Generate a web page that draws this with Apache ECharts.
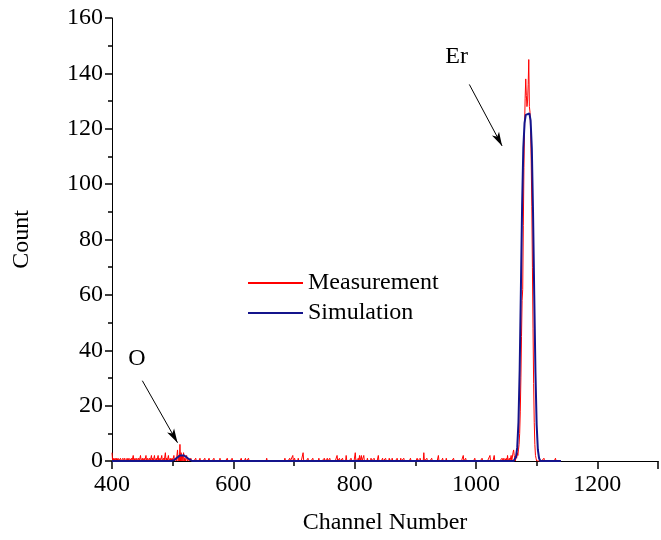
<!DOCTYPE html>
<html>
<head>
<meta charset="utf-8">
<script src="https://cdn.jsdelivr.net/npm/echarts@6/dist/echarts.min.js"></script>
<style>
  html, body { margin: 0; padding: 0; background: #fff; }
  #chart { width: 661px; height: 540px; }
</style>
</head>
<body>
<div id="chart"></div>
<script>
// channel range of the measured spectrum
const chStart = 400;
const chEnd = 1140;

// measured noise spikes [channel, count], count is 0 on the other channels
const measNoise = [
  [400, 3], [402, 1], [405, 1], [407, 1], [410, 1], [414, 1], [418, 1], [421, 1],
  [425, 1], [428, 1], [432, 1], [435, 2], [438, 1], [441, 1], [444, 1], [447, 2],
  [450, 1], [453, 1], [456, 2], [459, 1], [462, 1], [465, 2], [467, 1], [470, 2],
  [473, 1], [476, 2], [479, 1], [482, 2], [485, 1], [488, 3], [490, 1], [493, 2],
  [496, 1], [499, 1], [502, 2], [505, 1], [508, 4], [510, 2], [512, 6], [514, 3],
  [516, 2], [518, 3], [520, 1], [523, 2], [526, 1], [530, 1], [538, 1], [545, 1],
  [553, 1], [560, 1], [568, 1], [578, 1], [590, 1], [598, 1],
  [613, 1], [620, 1], [625, 1], [655, 1], [685, 1], [693, 1], [698, 2], [701, 1],
  [707, 1], [715, 3], [723, 1], [731, 1], [741, 1], [750, 1], [755, 1], [759, 1],
  [771, 2], [775, 1], [780, 1], [786, 2], [794, 1], [801, 3], [806, 1], [808, 2],
  [811, 2], [815, 2], [821, 1], [827, 1], [832, 1], [839, 2], [846, 1], [851, 1],
  [857, 1], [862, 1], [870, 1], [876, 1], [881, 1], [892, 1], [903, 1], [908, 1],
  [914, 3], [919, 1], [927, 1], [938, 2], [945, 1], [951, 1], [963, 1], [979, 2],
  [983, 1], [998, 1], [1010, 1], [1023, 2], [1030, 2], [1043, 1], [1046, 1], [1050, 1],
  [1052, 2], [1055, 1], [1058, 2], [1061, 3], [1062, 4], [1063, 2],
  [1112, 1], [1131, 1]
];

// Er peak, one count per channel from peakStart
const peakStart = 1064;
const measPeak = [
  1, 0, 2, 1, 3, 2, 4, 6, 10, 18,
  30, 45, 58, 62, 85, 106, 120, 131, 138, 132,
  128, 130, 136, 145, 128, 126, 120, 108, 92, 70,
  48, 28, 14, 6, 2, 1, 0
];

// simulated spectrum
const simCh = [400, 498, 502, 506, 509, 512, 519, 522, 525, 528, 532,
  1062, 1064, 1066, 1068, 1070, 1072, 1074, 1076, 1078, 1080, 1082, 1088,
  1090, 1092, 1094, 1096, 1098, 1100, 1102, 1104, 1106, 1140];
const simCount = [0, 0, 0.3, 1.0, 1.7, 2.0, 2.0, 1.7, 1.0, 0.3, 0,
  0, 0.4, 1.5, 5, 14, 33, 62, 92, 113, 122, 125, 125.5,
  123, 113, 90, 60, 32, 13, 4, 1, 0, 0];

// tick labels
const xTicks = [400, 600, 800, 1000, 1200];
const yTicks = [0, 20, 40, 60, 80, 100, 120, 140, 160];

// annotations: [text, textChannel, textCount, arrow from, arrow to]
const labelEr = ['Er', 968, 146, [989, 136], [1043, 113.8]];
const labelO = ['O', 441, 37, [450, 29], [508, 6.6]];

let noiseMap = {};
measNoise.forEach(function (p) { noiseMap[p[0]] = p[1]; });

let measData = [];
for (let ch = chStart; ch <= chEnd; ch++) {
  let v = 0;
  if (ch >= peakStart && ch < peakStart + measPeak.length) {
    v = measPeak[ch - peakStart];
  } else if (noiseMap[ch] !== undefined) {
    v = noiseMap[ch];
  }
  measData.push([ch, v]);
}

let simData = simCh.map(function (c, i) { return [c, simCount[i]]; });

const font = 'Liberation Serif';
const fs = 24;

// arrow + text in data coordinates
function annotation(a) {
  return {
    markLine: {
      silent: true,
      animation: false,
      symbol: ['none', 'arrow'],
      symbolSize: [6, 14],
      label: { show: false },
      lineStyle: { color: '#000', width: 1, type: 'solid' },
      data: [[{ coord: a[3] }, { coord: a[4] }]]
    },
    markPoint: {
      silent: true,
      animation: false,
      symbol: 'circle',
      symbolSize: 0,
      label: {
        show: true, position: 'inside', formatter: a[0],
        color: '#000', fontFamily: font, fontSize: fs
      },
      data: [{ coord: [a[1], a[2]] }]
    }
  };
}

let chart = echarts.init(document.getElementById('chart'));
let option = {
  backgroundColor: '#fff',
  animation: false,
  grid: { left: 112, right: -2, top: 18, bottom: 79 },
  legend: {
    orient: 'vertical',
    left: 242,
    top: 266,
    itemWidth: 55,
    itemHeight: 14,
    itemGap: 6,
    itemStyle: { opacity: 0 },
    textStyle: { fontFamily: font, fontSize: fs, color: '#000' },
    data: ['Measurement', 'Simulation']
  },
  xAxis: {
    type: 'value',
    min: 400,
    max: 1300,
    interval: 200,
    name: 'Channel Number',
    nameLocation: 'middle',
    nameGap: 50,
    nameTextStyle: { fontFamily: font, fontSize: fs, color: '#000' },
    axisLine: { lineStyle: { color: '#000', width: 1 } },
    axisTick: { length: 8, lineStyle: { color: '#000', width: 1.5 } },
    minorTick: { show: true, splitNumber: 2, length: 5, lineStyle: { color: '#000', width: 1.5 } },
    axisLabel: {
      margin: 12, fontFamily: font, fontSize: fs, color: '#000',
      formatter: function (v) { return xTicks.indexOf(v) >= 0 ? v : ''; }
    },
    splitLine: { show: false }
  },
  yAxis: {
    type: 'value',
    min: 0,
    max: 160,
    interval: 20,
    name: 'Count',
    nameLocation: 'middle',
    nameGap: 78,
    nameRotate: 90,
    nameTextStyle: { fontFamily: font, fontSize: fs, color: '#000' },
    axisLine: { show: true, lineStyle: { color: '#000', width: 1 } },
    axisTick: { show: true, length: 7, lineStyle: { color: '#000', width: 1.5 } },
    minorTick: { show: true, splitNumber: 2, length: 4, lineStyle: { color: '#000', width: 1.5 } },
    axisLabel: {
      margin: 9, fontFamily: font, fontSize: fs, color: '#000',
      formatter: function (v) { return yTicks.indexOf(v) >= 0 ? v : ''; }
    },
    splitLine: { show: false }
  },
  series: [
    {
      name: 'Measurement',
      type: 'line',
      symbol: 'none',
      data: measData,
      lineStyle: { color: '#ff0000', width: 1 },
      itemStyle: { color: '#ff0000' },
      z: 2
    },
    {
      name: 'Simulation',
      type: 'line',
      symbol: 'none',
      data: simData,
      lineStyle: { color: '#14148c', width: 2 },
      itemStyle: { color: '#14148c' },
      z: 3
    },
    Object.assign({ name: 'noteEr', type: 'line', data: [], symbol: 'none' }, annotation(labelEr)),
    Object.assign({ name: 'noteO', type: 'line', data: [], symbol: 'none' }, annotation(labelO))
  ]
};
chart.setOption(option);
</script>
</body>
</html>
